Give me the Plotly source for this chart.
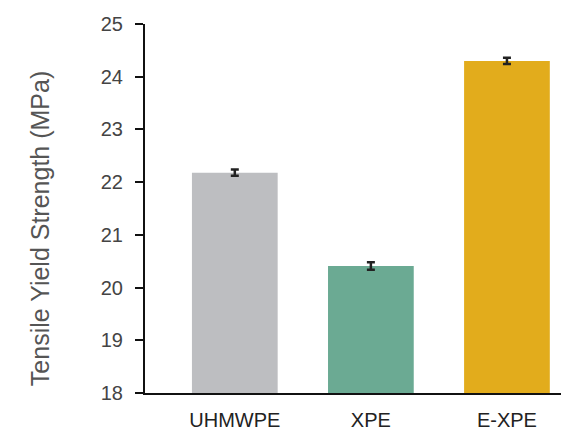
import plotly.graph_objects as go

categories = ["UHMWPE", "XPE", "E-XPE"]
values = [22.18, 20.41, 24.30]
errors = [0.06, 0.07, 0.06]
colors = ["#BDBEC1", "#6BAA93", "#E2AC1C"]
y_ticks = [18, 19, 20, 21, 22, 23, 24, 25]
y_title = "Tensile Yield Strength (MPa)"

fig = go.Figure()
fig.add_trace(go.Bar(
    x=categories,
    y=values,
    marker=dict(color=colors, line=dict(width=0)),
    width=0.63,
    error_y=dict(type="data", array=errors, visible=True,
                 color="#222222", thickness=2.5, width=4),
))

fig.update_layout(
    width=561, height=426,
    margin=dict(l=137, r=0, t=16, b=41),
    paper_bgcolor="white", plot_bgcolor="white",
    showlegend=False,
    font=dict(family="Liberation Sans, Arial, sans-serif", color="#333333"),
)
fig.add_annotation(
    text=y_title, xref="paper", yref="paper",
    x=-0.2476, y=0.444, xanchor="center", yanchor="middle",
    textangle=-90, showarrow=False,
    font=dict(size=25, color="#555555"),
)
fig.update_xaxes(
    range=[-0.66, 2.456],
    showline=True, linecolor="#111111", linewidth=2,
    ticks="", showgrid=False,
    tickfont=dict(size=20, color="#222222"),
    ticklabelstandoff=8,
)
fig.update_yaxes(
    range=[18, 25],
    tickvals=y_ticks,
    showline=True, linecolor="#111111", linewidth=2,
    ticks="outside", ticklen=8, tickwidth=2, tickcolor="#111111",
    showgrid=False, zeroline=False,
    tickfont=dict(size=20, color="#444444"),
    ticklabelstandoff=8,
)

fig.write_html("out.html")
